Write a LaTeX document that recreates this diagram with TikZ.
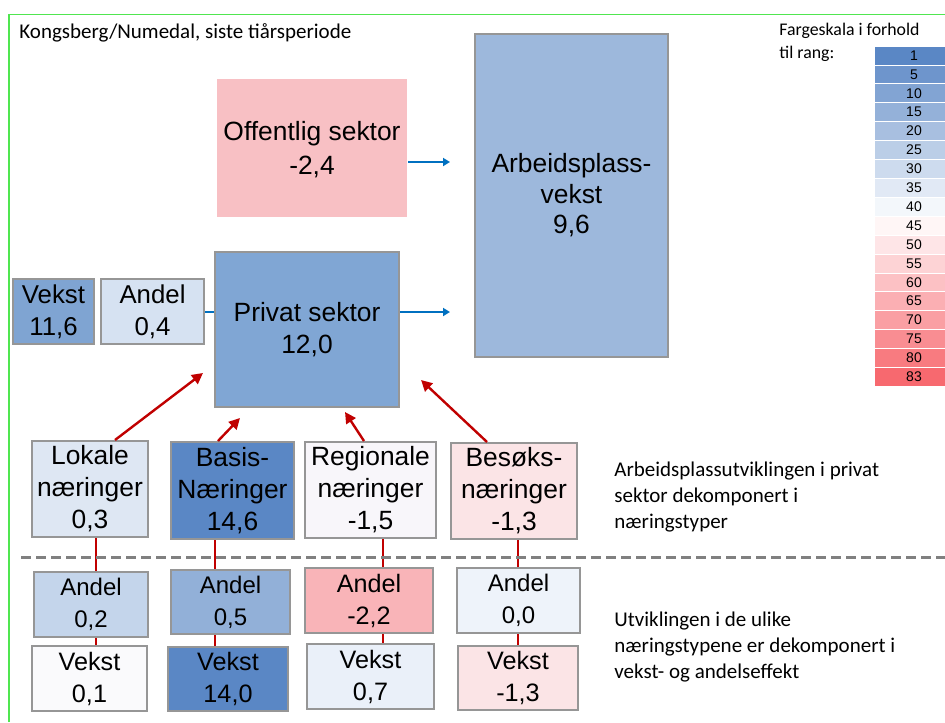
\documentclass[tikz,border=0pt]{standalone}
\usepackage{fontspec}
\setmainfont{Liberation Sans}
\newfontfamily\calfont{Carlito}
\usetikzlibrary{arrows.meta,math}

\definecolor{boxgray}{RGB}{150,150,150}
\definecolor{darkred}{RGB}{192,0,0}
\definecolor{arrowblue}{RGB}{0,112,192}
\definecolor{framegreen}{RGB}{80,230,80}
\definecolor{scaleblue}{RGB}{90,135,197}
\definecolor{scalered}{RGB}{247,105,111}

\tikzset{
  box/.style={draw=boxgray, line width=1pt, align=center, inner sep=0pt},
  bigtext/.style={font=\fontsize{13.2}{16}\selectfont},
  andeltext/.style={font=\fontsize{12}{16}\selectfont},
  vekstext/.style={font=\fontsize{12.6}{16}\selectfont},
  notetext/.style={font=\calfont\fontsize{10.5}{13}\selectfont, align=left, inner sep=0pt},
  scalebox/.style={draw=white, line width=0.3pt, minimum width=40pt, minimum height=9.45pt,
    inner sep=0pt, font=\fontsize{7}{7}\selectfont},
  redline/.style={draw=darkred, line width=1.3pt},
  redarrow/.style={draw=darkred, line width=1.2pt, -{Triangle[length=5.5pt,width=5.5pt]}},
  blueline/.style={draw=arrowblue, line width=1pt},
  bluearrow/.style={blueline, -{Triangle[length=3.5pt,width=4pt]}}
}

\begin{document}
\begin{tikzpicture}[x=0.5pt,y=-0.5pt]
  \useasboundingbox (0,0) rectangle (945,722);

  \draw[framegreen, line width=0.8pt] (9,722) -- (9,14.5) -- (945,14.5);
  \node[font=\calfont\fontsize{10.5}{12}\selectfont, anchor=west, inner sep=0pt] (title) at (19,33)
    {Kongsberg/Numedal, siste tiårsperiode};

  \node[box, font=\fontsize{13.2}{17}\selectfont, draw=none, fill={rgb,255:red,248;green,192;blue,196},
    minimum width=95pt, minimum height=69pt, text depth=-4pt] (offentlig) at (312,148) {Offentlig sektor\\-2,4};
  \node[box, font=\fontsize{13.2}{15.25}\selectfont, fill={rgb,255:red,157;green,184;blue,220},
    minimum width=96.5pt, minimum height=161.5pt] (arbeid) at (571.5,195.5) {Arbeidsplass-\\vekst\\9,6};
  \node[box, bigtext, fill={rgb,255:red,128;green,166;blue,212},
    minimum width=92pt, minimum height=77.5pt] (privat) at (307,329.5) {Privat sektor\\12,0};
  \node[box, font=\fontsize{12.9}{16}\selectfont, fill={rgb,255:red,127;green,164;blue,210},
    minimum width=40.5pt, minimum height=32.5pt] (vekst0) at (53.5,311.5) {Vekst\\11,6};
  \node[box, font=\fontsize{12.9}{16}\selectfont, fill={rgb,255:red,214;green,226;blue,242},
    minimum width=51.5pt, minimum height=32.5pt] (andel0) at (152.5,311.5) {Andel\\0,4};

  \node[box, bigtext, fill={rgb,255:red,222;green,231;blue,243},
    minimum width=58pt, minimum height=48pt] (naerL) at (90,489) {Lokale\\næringer\\0,3};
  \node[box, bigtext, fill=scaleblue,
    minimum width=61.5pt, minimum height=48.5pt] (naerB) at (232.5,490.5) {Basis-\\Næringer\\14,6};
  \node[box, bigtext, fill={rgb,255:red,248;green,246;blue,250},
    minimum width=65.5pt, minimum height=48pt] (naerR) at (370.5,490) {Regionale\\næringer\\-1,5};
  \node[box, bigtext, fill={rgb,255:red,251;green,228;blue,230},
    minimum width=63pt, minimum height=48pt] (naerS) at (514,491) {Besøks-\\næringer\\-1,3};

  \node[box, andeltext, fill={rgb,255:red,196;green,213;blue,235},
    minimum width=57pt, minimum height=32.5pt] (andelL) at (91,604.5) {Andel\\0,2};
  \node[box, andeltext, fill={rgb,255:red,146;green,176;blue,216},
    minimum width=59.5pt, minimum height=32pt] (andelB) at (230.5,602) {Andel\\0,5};
  \node[box, vekstext, fill={rgb,255:red,249;green,180;blue,184},
    minimum width=64pt, minimum height=32.5pt] (andelR) at (369,600.5) {Andel\\-2,2};
  \node[box, andeltext, fill={rgb,255:red,238;green,243;blue,250},
    minimum width=61.5pt, minimum height=32.5pt] (andelS) at (518.5,600.5) {Andel\\0,0};

  \node[box, vekstext, fill={rgb,255:red,250;green,250;blue,252},
    minimum width=57.5pt, minimum height=32.5pt] (vekstL) at (89.5,678.5) {Vekst\\0,1};
  \node[box, vekstext, fill=scaleblue,
    minimum width=60pt, minimum height=32pt] (vekstB) at (228,679) {Vekst\\14,0};
  \node[box, vekstext, fill={rgb,255:red,234;green,240;blue,249},
    minimum width=63.5pt, minimum height=32.5pt] (vekstR) at (370.5,676.5) {Vekst\\0,7};
  \node[box, vekstext, fill={rgb,255:red,251;green,228;blue,230},
    minimum width=60pt, minimum height=32pt] (vekstS) at (518,678) {Vekst\\-1,3};

  \coordinate (offin) at (450,162);
  \coordinate (privin) at (450,312);
  \draw[bluearrow] (offentlig.east |- offin) -- (offin);
  \draw[bluearrow] (privat.east |- privin) -- (privin);
  \draw[blueline] (andel0.east |- privin) -- (privat.west |- privin);

  \foreach \n/\sx/\ex/\ey in {L/115/203/373, B/218/240/418, R/364/345/412, S/487/421/380} {
    \coordinate (foot\n) at (\sx,0);
    \coordinate (tip\n) at (\ex,\ey);
    \draw[redarrow] (naer\n.north -| foot\n) -- (tip\n);
  }

  \foreach \n/\x in {L/96, B/215, R/383, S/518} {
    \coordinate (stem\n) at (\x,0);
    \draw[redline] (naer\n.south -| stem\n) -- (andel\n.north -| stem\n);
    \draw[redline] (andel\n.south -| stem\n) -- (vekst\n.north -| stem\n);
  }

  \draw[draw={rgb,255:red,128;green,128;blue,128}, line width=1.5pt, dash pattern=on 5pt off 2.5pt]
    (21,557) -- (945,557);

  \node[notetext, anchor=west] (note1) at (614,497)
    {Arbeidsplassutviklingen i privat\\sektor dekomponert i\\næringstyper};
  \node[notetext, anchor=west] (note2) at (614,647)
    {Utviklingen i de ulike\\næringstypene er dekomponert i\\vekst- og andelseffekt};

  \node[notetext, font=\calfont\fontsize{8.9}{11.5}\selectfont, anchor=west] (scaletitle) at (779,42)
    {Fargeskala i forhold\\til rang:};

  \foreach \r [count=\i] in {1,5,10,...,40} {
    \tikzmath{
      int \p;
      real \y;
      \p = 100 - (\i - 1) * 11.6;
      \y = 46 + (\i - 0.5) * 18.9;
    }
    \node[scalebox, fill=scaleblue!\p!white] (rank\r) at (914,\y) {\r};
  }

  \foreach \r [count=\i] in {45,50,...,80,83} {
    \tikzmath{
      int \p;
      real \y;
      \p = 6 + (\i - 1) * 11.75;
      \y = 46 + (\i + 8.5) * 18.9;
    }
    \node[scalebox, fill=scalered!\p!white] (rank\r) at (914,\y) {\r};
  }
\end{tikzpicture}
\end{document}
